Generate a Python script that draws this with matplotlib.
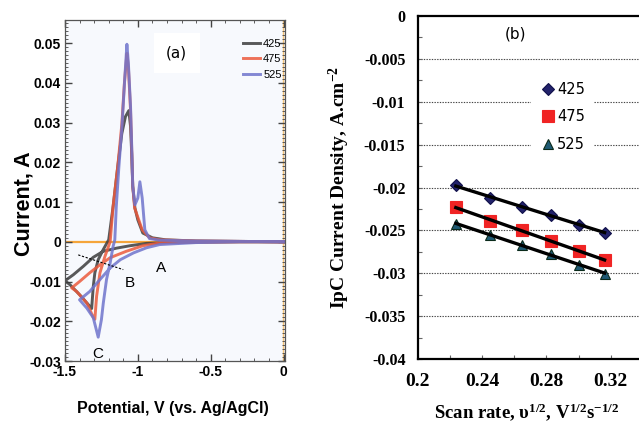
import numpy as np
import matplotlib.pyplot as plt
from matplotlib.ticker import MultipleLocator, FormatStrFormatter

plt.rcParams['axes.unicode_minus'] = False
plt.rcParams['mathtext.fontset'] = 'custom'
plt.rcParams['mathtext.rm'] = 'Liberation Serif:bold'
plt.rcParams['mathtext.it'] = 'Liberation Serif:bold'
plt.rcParams['mathtext.bf'] = 'Liberation Serif:bold'

SANS = ['Liberation Sans', 'DejaVu Sans']
SERIF = ['Liberation Serif', 'DejaVu Serif']

# ---- (a) cyclic voltammograms, one closed loop per temperature ----
v_425 = [0, -0.3, -0.6, -0.8, -0.94, -1.055, -1.146, -1.238, -1.306, -1.375, -1.443, -1.5,
         -1.466, -1.40, -1.34, -1.317, -1.306, -1.295, -1.272, -1.238, -1.20, -1.17, -1.138,
         -1.11, -1.085, -1.062, -1.05, -1.042, -1.035, -1.02, -1.0, -0.966, -0.90, -0.81,
         -0.6, -0.3, 0]
i_425 = [0, 0, -0.0001, -0.0002, -0.0004, -0.0010, -0.0016, -0.0024, -0.0039, -0.0062, -0.0083, -0.0098,
         -0.0108, -0.0133, -0.0158, -0.0168, -0.0113, -0.0078, -0.0045, -0.0020, 0.0005, 0.0088, 0.0189,
         0.0272, 0.0315, 0.0330, 0.0290, 0.0220, 0.0140, 0.0085, 0.0055, 0.0022, 0.0010, 0.0005,
         0.0002, 0.0001, 0]

v_475 = [0, -0.3, -0.6, -0.85, -0.966, -1.08, -1.19, -1.26, -1.33, -1.40, -1.454,
         -1.42, -1.35, -1.306, -1.295, -1.283, -1.26, -1.226, -1.19, -1.17, -1.138, -1.11,
         -1.092, -1.075, -1.065, -1.05, -1.042, -1.035, -1.022, -0.97, -0.92, -0.85, -0.6, -0.3, 0]
i_475 = [0, 0, -0.0001, -0.0003, -0.0010, -0.0024, -0.0040, -0.0058, -0.0078, -0.0100, -0.0116,
         -0.0125, -0.0154, -0.0190, -0.0195, -0.0137, -0.0078, -0.0037, 0.0000, 0.0088, 0.0189, 0.0295,
         0.0400, 0.0474, 0.0440, 0.0330, 0.0230, 0.0140, 0.0085, 0.0030, 0.0010, 0.0005, 0.0002, 0.0001, 0]

v_525 = [0, -0.3, -0.6, -0.85, -0.94, -1.03, -1.12, -1.19, -1.26, -1.33, -1.40,
         -1.35, -1.306, -1.272, -1.25, -1.237, -1.215, -1.19, -1.17, -1.158, -1.148, -1.13,
         -1.108, -1.09, -1.075, -1.065, -1.05, -1.042, -1.035, -1.02, -1.0, -0.986, -0.97, -0.952,
         -0.92, -0.85, -0.6, -0.3, 0]
i_525 = [0, 0, -0.0002, -0.0007, -0.0015, -0.0028, -0.0045, -0.0066, -0.0095, -0.0125, -0.0146,
         -0.0167, -0.0191, -0.0240, -0.0196, -0.0154, -0.0095, -0.0053, -0.0012, 0.0005, 0.0088, 0.0189,
         0.0295, 0.0410, 0.0497, 0.0450, 0.0340, 0.0240, 0.0140, 0.0093, 0.0110, 0.0151, 0.0110, 0.0030,
         0.0008, 0.0004, 0.0002, 0.0001, 0]

cv_labels = ['425', '475', '525']
cv_colors = ['#3c3c3c', '#ec5a3c', '#6f74cc']

# ---- (b) cathodic peak current density vs square root of scan rate ----
scan_sqrt = [0.2236, 0.2449, 0.2646, 0.2828, 0.3000, 0.3162]
ipc_425 = [-0.01973, -0.02120, -0.02225, -0.02322, -0.02431, -0.02524]
ipc_475 = [-0.02225, -0.02388, -0.02497, -0.02625, -0.02742, -0.02839]
ipc_525 = [-0.02419, -0.02555, -0.02672, -0.02777, -0.02897, -0.03002]

fig = plt.figure(figsize=(6.39, 4.22), dpi=100)

# panel (a)
ax1 = fig.add_axes([0.1017, 0.1445, 0.3443, 0.8081])
ax1.set_facecolor('#f7f9fd')
ax1.axhline(0, color='#f5a53a', lw=1.6, zorder=1)
ax1.axvline(-0.006, color='#f5c47a', lw=1.0, zorder=1)
for v, i, c, lab in zip([v_425, v_475, v_525], [i_425, i_475, i_525], cv_colors, cv_labels):
    ax1.plot(v, i, color=c, lw=2.1, alpha=0.85, label=lab, zorder=2,
             solid_joinstyle='round')

# crossover guide and peak labels
ax1.plot([-1.409, -1.10], [-0.0033, -0.0070], color='black', lw=0.8, ls=(0, (2, 1.5)), zorder=3)
ax1.text(-1.055, -0.0103, 'B', fontsize=11, family=SANS, ha='center', va='center')
ax1.text(-0.838, -0.0066, 'A', fontsize=11, family=SANS, ha='center', va='center')
ax1.text(-1.272, -0.0283, 'C', fontsize=11, family=SANS, ha='center', va='center')
ax1.text(-0.733, 0.0475, '(a)', fontsize=11, ha='center', va='center',
         bbox=dict(facecolor='white', edgecolor='none', pad=9))

ax1.set_xlim(-1.5, 0.01)
ax1.set_ylim(-0.03, 0.0558)
ax1.xaxis.set_major_locator(MultipleLocator(0.5))
ax1.xaxis.set_minor_locator(MultipleLocator(0.1))
ax1.yaxis.set_major_locator(MultipleLocator(0.01))
ax1.yaxis.set_minor_locator(MultipleLocator(0.001))
ax1.xaxis.set_major_formatter(FormatStrFormatter('%g'))
ax1.yaxis.set_major_formatter(FormatStrFormatter('%g'))
ax1.tick_params(which='both', direction='in', top=True, right=True, color='#444444')
ax1.tick_params(which='major', length=5, width=1.0, labelsize=10, pad=3)
ax1.tick_params(which='minor', length=2.5, width=0.6)
for lbl in ax1.get_xticklabels() + ax1.get_yticklabels():
    lbl.set_family(SANS)
    lbl.set_fontweight('bold')
for s in ax1.spines.values():
    s.set_color('#555555')
    s.set_linewidth(0.9)
ax1.set_xlabel('Potential, V (vs. Ag/AgCl)', fontsize=11.5, fontweight='bold', family=SANS,
               va='center')
ax1.xaxis.set_label_coords(0.49, -0.138)
ax1.set_ylabel('Current, A', fontsize=15.5, fontweight='bold', family=SANS)
ax1.yaxis.set_label_coords(-0.14, 0.46)
ax1.legend(loc='upper right', bbox_to_anchor=(1.03, 0.975), frameon=False,
           handlelength=1.5, handletextpad=0.3, labelspacing=0.5,
           prop={'family': SANS, 'size': 8})

# panel (b)
ax2 = fig.add_axes([0.654, 0.149, 0.352, 0.813])
markers = ['D', 's', '^']
mcolors = ['#22226b', '#f02424', '#1f5a74']
medges = ['#10104a', '#f02424', '#0a2a1a']
msizes = [6, 9, 7.5]
for y, m, fc, ec, ms, lab in zip([ipc_425, ipc_475, ipc_525], markers, mcolors, medges, msizes, cv_labels):
    ax2.plot(scan_sqrt, y, ls='none', marker=m, ms=ms, mfc=fc, mec=ec, mew=0.8, zorder=3, label=lab)
    slope, icpt = np.polyfit(scan_sqrt, y, 1)
    xs = np.array([scan_sqrt[0], scan_sqrt[-1]])
    ax2.plot(xs, slope * xs + icpt, color='black', lw=2.4, zorder=4)

ax2.set_xlim(0.2, 0.34)
ax2.set_ylim(-0.04, 0)
for yv in np.arange(-0.035, -0.001, 0.005):
    ax2.axhline(yv, color='#444444', lw=0.8, ls=(0, (1.2, 1.2)), zorder=1)
ax2.xaxis.set_major_locator(MultipleLocator(0.04))
ax2.xaxis.set_minor_locator(MultipleLocator(0.02))
ax2.yaxis.set_major_locator(MultipleLocator(0.005))
ax2.yaxis.set_minor_locator(MultipleLocator(0.0025))
ax2.xaxis.set_major_formatter(FormatStrFormatter('%g'))
ax2.yaxis.set_major_formatter(FormatStrFormatter('%g'))
ax2.tick_params(which='both', direction='in', length=3, width=0.8, color='#666666')
ax2.tick_params(axis='y', which='major', labelsize=11.5, pad=9)
ax2.tick_params(axis='x', which='major', labelsize=14, pad=10)
for lbl in ax2.get_xticklabels() + ax2.get_yticklabels():
    lbl.set_family(SERIF)
    lbl.set_fontweight('bold')
for s in ['left', 'bottom', 'top']:
    ax2.spines[s].set_linewidth(1.6)
ax2.spines['right'].set_visible(False)
ax2.set_ylabel('IpC Current Density, A.cm$^{-2}$', fontsize=14, fontweight='bold', family=SERIF)
ax2.yaxis.set_label_coords(-0.293, 0.50)
ax2.set_xlabel('Scan rate, \u03c5$^{1/2}$, V$^{1/2}$s$^{-1/2}$', fontsize=13.5,
               fontweight='bold', family=SERIF, va='center')
ax2.xaxis.set_label_coords(0.485, -0.155)
ax2.text(0.261, -0.0021, '(b)', fontsize=11, ha='center', va='center')
leg2 = ax2.legend(loc='upper left', bbox_to_anchor=(0.47, 0.855), frameon=True,
                  facecolor='white', edgecolor='none', framealpha=1, fancybox=False,
                  handletextpad=0.0, labelspacing=0.85, borderpad=0.6, handlelength=1.2,
                  prop={'size': 10.5})
leg2.set_zorder(5)

fig.savefig('out.png', dpi=100)
